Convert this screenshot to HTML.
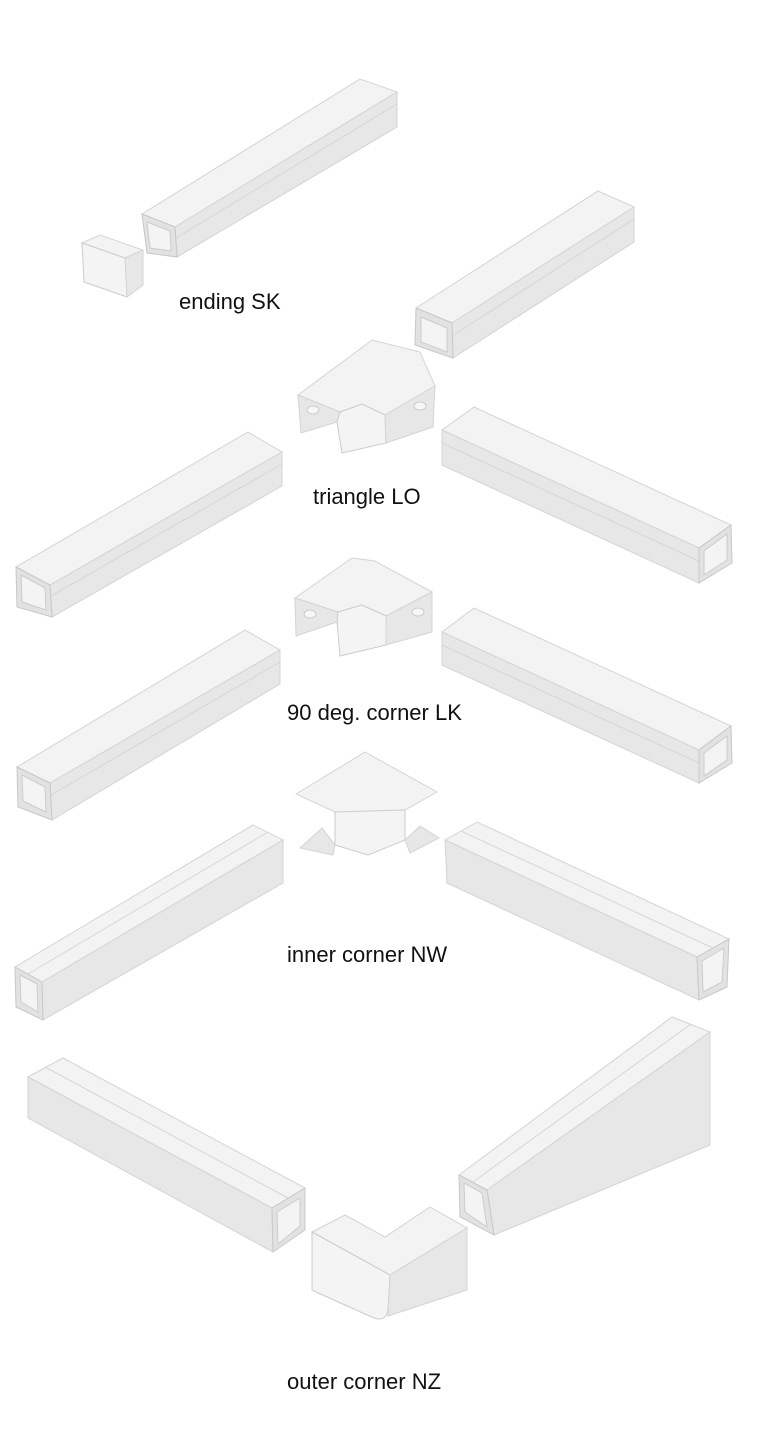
<!DOCTYPE html>
<html><head><meta charset="utf-8"><style>
html,body{margin:0;padding:0;background:#fff}
svg{display:block}
text{font-family:"Liberation Sans",Arial,sans-serif;font-size:22px;fill:#111}
.t{fill:#f3f3f3;stroke:#d4d4d4;stroke-width:1}
.s{fill:#e7e7e7;stroke:#d4d4d4;stroke-width:1}
.e{fill:#e2e2e2;stroke:#c8c8c8;stroke-width:1}
.i{fill:#f4f4f4;stroke:#cccccc;stroke-width:1}
.r{stroke:#d6d6d6;stroke-width:1;fill:none}
</style></head><body>
<svg width="757" height="1451" viewBox="0 0 757 1451" xmlns="http://www.w3.org/2000/svg">
<!-- Duct 1 -->
<polygon class="t" points="142,214 175,227 397,92 360,79"/>
<polygon class="s" points="175,227 397,92 397,127 177,257"/>
<line class="r" x1="176" y1="238" x2="397" y2="104"/>
<polygon class="e" points="142,214 175,227 177,257 147,253"/>
<polygon class="i" points="147,222 170,231 171,251 150,248"/>
<!-- cap -->
<polygon class="t" points="82,243 100,235 143,250 125,258"/>
<polygon class="i" points="82,243 125,258 127,297 84,282"/>
<polygon class="s" points="125,258 143,250 143,285 127,297"/>
<text x="179" y="309">ending SK</text>

<!-- Duct 2 -->
<polygon class="t" points="416,308 452,323 634,207 598,191"/>
<polygon class="s" points="452,323 634,207 634,242 453,358"/>
<line class="r" x1="452" y1="336" x2="634" y2="219"/>
<polygon class="e" points="416,308 452,323 453,358 415,345"/>
<polygon class="i" points="421,317 447,328 447,352 421,342"/>

<!-- Triangle LO piece -->
<polygon class="t" points="298,395 372,340 420,352 435,386 385,415 362,404 340,412"/>
<polygon class="s" points="298,395 340,412 337,422 301,433"/>
<polygon class="i" points="340,412 362,404 385,415 386,443 342,453 337,422"/>
<polygon class="s" points="385,415 435,386 433,427 386,443"/>
<ellipse cx="313" cy="410" rx="6" ry="4" fill="#f7f7f7" stroke="#ccc"/>
<ellipse cx="420" cy="406" rx="6" ry="4" fill="#f7f7f7" stroke="#ccc"/>
<text x="313" y="504">triangle LO</text>

<!-- Duct 3 -->
<polygon class="t" points="16,567 50,585 282,452 248,432"/>
<polygon class="s" points="50,585 282,452 282,486 52,617"/>
<line class="r" x1="51" y1="596" x2="282" y2="464"/>
<polygon class="e" points="16,567 50,585 52,617 17,607"/>
<polygon class="i" points="21,575 45,588 46,610 22,602"/>

<!-- Duct 4 -->
<polygon class="t" points="442,430 474,407 731,525 699,548"/>
<polygon class="s" points="442,430 699,548 699,583 442,465"/>
<line class="r" x1="442" y1="443" x2="699" y2="561"/>
<polygon class="e" points="699,548 731,525 732,563 699,583"/>
<polygon class="i" points="704,551 727,534 727,560 704,575"/>

<!-- 90 deg piece -->
<polygon class="t" points="295,598 352,558 375,561 432,592 386,616 362,605 338,612"/>
<polygon class="s" points="295,598 338,612 337,622 296,636"/>
<polygon class="i" points="338,612 362,605 386,616 386,645 340,656 337,622"/>
<polygon class="s" points="386,616 432,592 432,632 386,645"/>
<ellipse cx="310" cy="614" rx="6" ry="4" fill="#f7f7f7" stroke="#ccc"/>
<ellipse cx="418" cy="612" rx="6" ry="4" fill="#f7f7f7" stroke="#ccc"/>
<text x="287" y="720">90 deg. corner LK</text>

<!-- Duct 5 -->
<polygon class="t" points="17,767 50,783 280,650 245,630"/>
<polygon class="s" points="50,783 280,650 280,684 52,820"/>
<line class="r" x1="51" y1="795" x2="280" y2="662"/>
<polygon class="e" points="17,767 50,783 52,820 18,807"/>
<polygon class="i" points="22,775 45,787 46,812 23,801"/>

<!-- Duct 7 -->
<polygon class="t" points="442,632 474,608 731,726 699,750"/>
<polygon class="s" points="442,632 699,750 699,783 442,665"/>
<line class="r" x1="442" y1="645" x2="699" y2="763"/>
<polygon class="e" points="699,750 731,726 732,763 699,783"/>
<polygon class="i" points="704,753 727,736 727,760 704,776"/>

<!-- inner corner piece -->
<polygon class="t" points="296,794 365,752 437,792 405,810 368,812 335,812"/>
<polygon class="i" points="335,812 405,810 405,840 368,855 335,845"/>
<polygon class="s" points="300,848 322,828 335,845 333,855"/>
<polygon class="s" points="405,840 420,826 439,838 410,853"/>
<text x="287" y="962">inner corner NW</text>

<!-- Duct 6 -->
<polygon class="t" points="15,967 42,982 283,840 253,825"/>
<polygon class="s" points="42,982 283,840 283,883 43,1020"/>
<line class="r" x1="28" y1="974" x2="268" y2="832"/>
<polygon class="e" points="15,967 42,982 43,1020 16,1007"/>
<polygon class="i" points="20,975 37,984 38,1012 21,1002"/>

<!-- Duct 8 -->
<polygon class="t" points="445,840 477,822 729,939 697,957"/>
<polygon class="s" points="445,840 697,957 699,1000 447,883"/>
<line class="r" x1="461" y1="831" x2="713" y2="948"/>
<polygon class="e" points="697,957 729,939 727,987 699,1000"/>
<polygon class="i" points="702,961 724,948 722,982 703,992"/>

<!-- Duct 9 -->
<polygon class="t" points="28,1077 63,1058 305,1188 272,1208"/>
<polygon class="s" points="28,1077 272,1208 273,1252 28,1118"/>
<line class="r" x1="45" y1="1067" x2="288" y2="1198"/>
<polygon class="e" points="272,1208 305,1188 305,1230 273,1252"/>
<polygon class="i" points="277,1212 300,1198 300,1226 278,1244"/>

<!-- Duct 10 -->
<polygon class="t" points="459,1175 487,1190 710,1032 672,1017"/>
<polygon class="s" points="487,1190 710,1032 710,1145 494,1235"/>
<line class="r" x1="473" y1="1182" x2="691" y2="1024"/>
<polygon class="e" points="459,1175 487,1190 494,1235 460,1217"/>
<polygon class="i" points="464,1183 482,1193 487,1227 465,1212"/>

<!-- outer corner piece -->
<polygon class="t" points="312,1232 345,1215 385,1237 430,1207 467,1228 390,1275"/>
<path class="i" d="M312,1232 L390,1275 L388,1310 Q386,1322 374,1318 L316,1292 L312,1290 Z"/>
<polygon class="s" points="390,1275 467,1228 467,1290 388,1316"/>
<text x="287" y="1389">outer corner NZ</text>
</svg>
</body></html>
